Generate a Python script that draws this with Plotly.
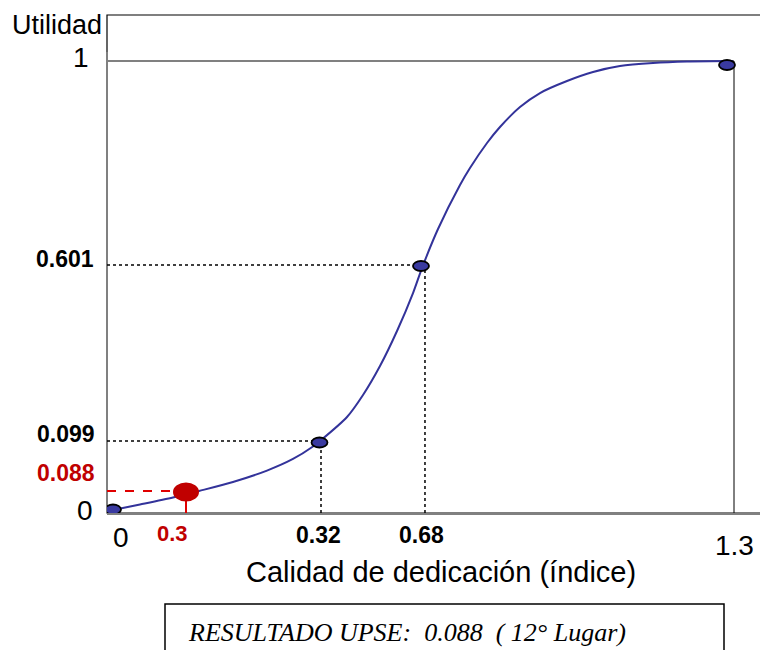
import plotly.graph_objects as go

# ---------------- data (axis units as drawn in the picture) ----------------
# utility curve sampled along the drawn line (x = dedication index axis, y = utility axis)
curve_x = [0.0124, 0.0684, 0.1368, 0.1908, 0.2612, 0.3317, 0.3856, 0.4271, 0.4416,
           0.4976, 0.5308, 0.5660, 0.6013, 0.6345, 0.6531, 0.6863, 0.7319, 0.7526,
           0.7879, 0.8148, 0.8563, 0.8978, 0.9538, 1.0077, 1.0636, 1.1321, 1.2026, 1.2979]
curve_y = [0.0066, 0.0188, 0.0343, 0.0487, 0.0686, 0.0938, 0.1195, 0.1471, 0.1593,
           0.2124, 0.2611, 0.3252, 0.4027, 0.4867, 0.5420, 0.6283, 0.7257, 0.7633,
           0.8186, 0.8540, 0.8982, 0.9292, 0.9558, 0.9757, 0.9889, 0.9956, 0.9989, 1.0]

# reference points of the utility function
point_x = [0.0124, 0.4406, 0.6510, 1.2855]
point_y = [0.0077, 0.1560, 0.5465, 0.9912]
x_tick_labels = ["0", "0.32", "0.68", "1.3"]
y_tick_labels = ["0", "0.099", "0.601", "1"]

# dotted guide lines for the two middle points
guide_x = [0.4437, 0.6593]
guide_y = [0.1593, 0.5487]

# UPSE result
upse_x = 0.1638
upse_y = 0.0465
upse_level = 0.0487
upse_x_label = "0.3"
upse_y_label = "0.088"
result_text = "RESULTADO UPSE:&nbsp; 0.088&nbsp; ( 12° Lugar)"

X_MAX = 1.3705
Y_MAX = 1.1018
OFF = 8                      # page body margin
W, H = 768 - OFF, 650 - OFF
PL, PT, PB = 107, 15, 513    # plot area edges in page pixels
L, R, T = PL - OFF, 0, PT - OFF
B = H - (PB - OFF)
PW, PH = W - L - R, H - T - B


def xp(px):
    return (px - PL) / PW


def yp(py):
    return (PB - py) / PH


BLUE = "#33339a"
RED = "#c00000"
FONT = "Liberation Sans, Arial, sans-serif"

fig = go.Figure()
fig.add_trace(go.Scatter(x=curve_x, y=curve_y, mode="lines",
                         line=dict(color=BLUE, width=2, shape="spline", smoothing=0.8),
                         hoverinfo="skip"))

shapes = []
# outer box
shapes.append(dict(type="rect", xref="paper", yref="paper", x0=0, x1=1.05, y0=0, y1=1,
                   line=dict(color="black", width=1.2), layer="below"))
# left axis (gray)
shapes.append(dict(type="line", xref="paper", yref="y", x0=0, x1=0, y0=0, y1=1.02,
                   line=dict(color="#808080", width=2)))
# top line at utility 1
shapes.append(dict(type="line", xref="x", yref="y", x0=0, x1=1.3, y0=1.0, y1=1.0,
                   line=dict(color="#808080", width=2), layer="below"))
# right vertical line at 1.3
shapes.append(dict(type="line", xref="x", yref="y", x0=1.3, x1=1.3, y0=0, y1=1.0,
                   line=dict(color="black", width=1)))
# dotted guides
for gx, gy, px_ in zip(guide_x, guide_y, point_x[1:3]):
    shapes.append(dict(type="line", xref="x", yref="y", x0=0, x1=px_, y0=gy, y1=gy,
                       line=dict(color="black", width=1.5, dash="dot")))
    shapes.append(dict(type="line", xref="x", yref="y", x0=gx, x1=gx, y0=0, y1=gy,
                       line=dict(color="black", width=1.5, dash="dot")))
# red guides
shapes.append(dict(type="line", xref="x", yref="y", x0=0, x1=upse_x, y0=upse_level, y1=upse_level,
                   line=dict(color="#e00000", width=2, dash="dash")))
shapes.append(dict(type="line", xref="x", yref="y", x0=upse_x, x1=upse_x, y0=0, y1=upse_y,
                   line=dict(color="#e00000", width=2)))
# point ellipses
for px_, py_ in zip(point_x, point_y):
    shapes.append(dict(type="circle", xref="x", yref="y", xsizemode="pixel", ysizemode="pixel",
                       xanchor=px_, yanchor=py_, x0=-8, x1=8, y0=-5, y1=5,
                       fillcolor="#3a3aa0", line=dict(color="black", width=1.8)))
# UPSE point
shapes.append(dict(type="circle", xref="x", yref="y", xsizemode="pixel", ysizemode="pixel",
                   xanchor=upse_x, yanchor=upse_y, x0=-13, x1=13, y0=-9.5, y1=9.5,
                   fillcolor=RED, line=dict(color=RED, width=0)))
# result box
shapes.append(dict(type="rect", xref="paper", yref="paper", x0=xp(165), x1=xp(724),
                   y0=yp(700), y1=yp(604), line=dict(color="black", width=1.5)))

ann = []


def text(s, x, y, size, color="black", bold=False, xanchor="center", family=FONT, italic=False):
    if bold:
        s = "<b>" + s + "</b>"
    if italic:
        s = "<i>" + s + "</i>"
    ann.append(dict(text=s, xref="paper", yref="paper", x=xp(x), y=yp(y), xanchor=xanchor,
                    yanchor="middle", showarrow=False,
                    font=dict(size=size, color=color, family=family)))


# y labels
text("Utilidad", 104, 25, 27, xanchor="right")
text(y_tick_labels[3], 91, 57, 28, xanchor="right")
text(y_tick_labels[2], 96, 259, 23, bold=True, xanchor="right")
text(y_tick_labels[1], 97, 434, 23, bold=True, xanchor="right")
text(upse_y_label, 97, 473, 23, color=RED, bold=True, xanchor="right")
text(y_tick_labels[0], 95, 510, 28, xanchor="right")
# x labels
text(x_tick_labels[0], 121, 537, 28)
text(upse_x_label, 172, 533, 22, color=RED, bold=True)
text(x_tick_labels[1], 318, 535, 23, bold=True)
text(x_tick_labels[2], 421, 535, 23, bold=True)
text(x_tick_labels[3], 734, 545, 28)
# axis title
text("Calidad de dedicación (índice)", 441, 572, 29)
# result
text(result_text, 186, 632, 26, xanchor="left",
     family="Liberation Serif, Cambria, serif", italic=True)

fig.update_layout(
    width=W, height=H,
    margin=dict(l=L, r=R, t=T, b=B, pad=0),
    paper_bgcolor="white", plot_bgcolor="white",
    showlegend=False,
    shapes=shapes, annotations=ann,
    xaxis=dict(range=[0, X_MAX], showgrid=False, zeroline=False, showticklabels=False,
               ticks="", showline=True, linecolor="#808080", linewidth=2, fixedrange=True),
    yaxis=dict(range=[0, Y_MAX], showgrid=False, zeroline=False, showticklabels=False,
               ticks="", showline=False, fixedrange=True),
)
fig.write_html("out.html")
